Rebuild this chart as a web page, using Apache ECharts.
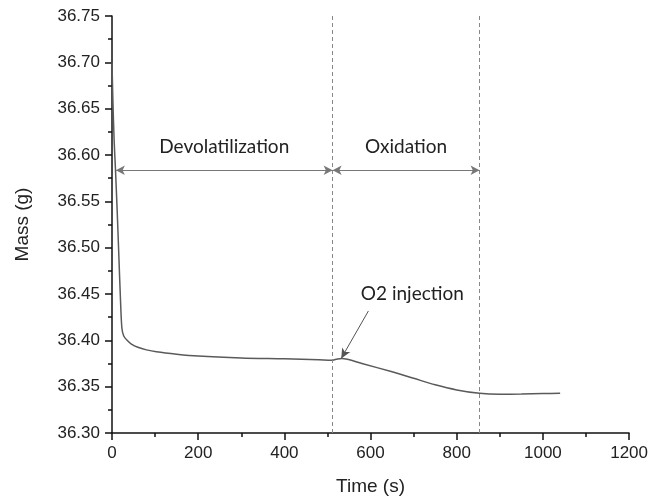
<!DOCTYPE html>
<html>
<head>
<meta charset="utf-8">
<script src="https://cdn.jsdelivr.net/npm/echarts@6/dist/echarts.min.js"></script>
<style>
  html, body { margin: 0; padding: 0; background: #fff; }
  #chart { width: 651px; height: 501px; }
</style>
</head>
<body>
<div id="chart"></div>
<script>
// Mass loss record of the sample over time
const timeS = [0, 2, 5, 8, 12, 16, 20, 23, 27, 35, 45, 60, 80, 103, 150, 200, 300, 400, 480, 510, 520, 533,
  580, 650, 700, 750, 800, 853, 900, 950, 1000, 1040];
const massG = [36.700, 36.660, 36.615, 36.585, 36.540, 36.490, 36.440, 36.413, 36.405, 36.400, 36.396,
  36.3925, 36.3897, 36.3876, 36.385, 36.383, 36.381, 36.380, 36.379, 36.3785, 36.3795, 36.3805,
  36.375, 36.366, 36.359, 36.352, 36.3465, 36.3428, 36.3418, 36.342, 36.3425, 36.3428];

// Stage boundaries (s) and annotation placement in data units
const stageBounds = [512, 853];
const stageNames = ['Devolatilization', 'Oxidation'];
const stageArrowStart = 9;
const stageArrowMass = 36.5835;
const injectionLabel = 'O2 injection';
const injectionArrowFrom = [595, 36.4317];
const injectionArrowTo = [532, 36.3805];
const injectionTextAt = [697, 36.4497];

// Axis ranges and tick steps
const xRange = [0, 1200, 200];
const yRange = [36.30, 36.75, 0.05];

const chart = echarts.init(document.getElementById('chart'), null, { renderer: 'canvas' });

const tickFont = { fontFamily: 'Liberation Sans, Arial, sans-serif', fontSize: 17, color: '#222' };
const noteFont = 'Lato, "Open Sans", sans-serif';
const noteSize = 19;

const series = timeS.map((t, i) => [t, massG[i]]);

const arrowHead = { symbol: 'arrow', symbolSize: [7, 9], itemStyle: { color: '#111' } };
const spanLine = { type: 'solid', color: '#777', width: 1 };

chart.setOption({
  animation: false,
  backgroundColor: '#fff',
  grid: { left: 112, right: 19, top: 16, bottom: 67 },
  xAxis: {
    type: 'value',
    min: xRange[0], max: xRange[1], interval: xRange[2],
    name: 'Time (s)', nameLocation: 'middle', nameGap: 44,
    nameTextStyle: { fontFamily: tickFont.fontFamily, fontSize: 19, color: '#222' },
    axisLine: { lineStyle: { color: '#111', width: 1.5 } },
    axisTick: { show: true, inside: false, length: 7, lineStyle: { color: '#111', width: 1.5 } },
    minorTick: { show: true, splitNumber: 2, length: 4, lineStyle: { color: '#111', width: 1.5 } },
    splitLine: { show: false },
    axisLabel: Object.assign({ margin: 12, formatter: v => String(v) }, tickFont)
  },
  yAxis: {
    type: 'value',
    min: yRange[0], max: yRange[1], interval: yRange[2],
    name: 'Mass (g)', nameLocation: 'middle', nameGap: 80,
    nameTextStyle: { fontFamily: tickFont.fontFamily, fontSize: 19, color: '#222' },
    axisLine: { show: true, lineStyle: { color: '#111', width: 1.5 } },
    axisTick: { show: true, inside: false, length: 7, lineStyle: { color: '#111', width: 1.5 } },
    minorTick: { show: true, splitNumber: 2, length: 4, lineStyle: { color: '#111', width: 1.5 } },
    splitLine: { show: false },
    axisLabel: Object.assign({ margin: 12, formatter: v => v.toFixed(2) }, tickFont)
  },
  series: [
    {
      type: 'line',
      data: series,
      showSymbol: false,
      symbol: 'none',
      smooth: 0.3,
      lineStyle: { color: '#5a5a5a', width: 1.5 },
      z: 3,
      markLine: {
        silent: true,
        symbol: ['none', 'none'],
        animation: false,
        data: [
          // stage boundaries
          { xAxis: stageBounds[0], lineStyle: { type: [4, 3], color: '#888', width: 1 }, label: { show: false } },
          { xAxis: stageBounds[1], lineStyle: { type: [4, 3], color: '#888', width: 1 }, label: { show: false } },
          // devolatilization span
          [
            Object.assign({ coord: [stageArrowStart, stageArrowMass] }, arrowHead),
            Object.assign({ coord: [stageBounds[0], stageArrowMass], lineStyle: spanLine,
              label: { show: true, position: 'middle', formatter: stageNames[0], distance: 14,
                fontFamily: noteFont, fontSize: noteSize, color: '#222' } }, arrowHead)
          ],
          // oxidation span
          [
            Object.assign({ coord: [stageBounds[0], stageArrowMass] }, arrowHead),
            Object.assign({ coord: [stageBounds[1], stageArrowMass], lineStyle: spanLine,
              label: { show: true, position: 'middle', formatter: stageNames[1], distance: 14,
                fontFamily: noteFont, fontSize: noteSize, color: '#222' } }, arrowHead)
          ],
          // oxygen injection pointer
          [
            { coord: injectionArrowFrom, symbol: 'none' },
            { coord: injectionArrowTo, symbol: 'arrow', symbolSize: [7, 10], itemStyle: { color: '#111' },
              lineStyle: { type: 'solid', color: '#555', width: 1 },
              label: { show: false } }
          ]
        ]
      },
      markPoint: {
        silent: true,
        symbol: 'circle',
        symbolSize: 0,
        data: [
          { coord: injectionTextAt, label: { show: true, formatter: injectionLabel, position: 'inside',
            fontFamily: noteFont, fontSize: noteSize, color: '#222' } }
        ]
      }
    }
  ]
});
</script>
</body>
</html>
